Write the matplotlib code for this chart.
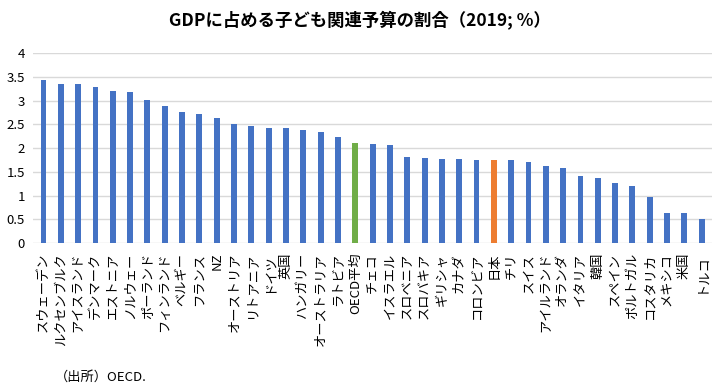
import matplotlib
matplotlib.use("Agg")
import matplotlib.pyplot as plt

plt.rcParams["font.family"] = ["Noto Sans CJK JP", "DejaVu Sans"]

countries = [
    "スウェーデン", "ルクセンブルク", "アイスランド", "デンマーク", "エストニア",
    "ノルウェー", "ポーランド", "フィンランド", "ベルギー", "フランス", "NZ",
    "オーストリア", "リトアニア", "ドイツ", "英国", "ハンガリー", "オーストラリア",
    "ラトビア", "OECD平均", "チェコ", "イスラエル", "スロベニア", "スロバキア",
    "ギリシャ", "カナダ", "コロンビア", "日本", "チリ", "スイス", "アイルランド",
    "オランダ", "イタリア", "韓国", "スペイン", "ポルトガル", "コスタリカ",
    "メキシコ", "米国", "トルコ",
]
values = [
    3.44, 3.36, 3.35, 3.30, 3.21, 3.19, 3.02, 2.89, 2.76, 2.72, 2.64,
    2.50, 2.47, 2.42, 2.42, 2.39, 2.34, 2.24, 2.11, 2.08, 2.06, 1.82,
    1.79, 1.77, 1.77, 1.75, 1.75, 1.75, 1.70, 1.63, 1.58, 1.42, 1.37,
    1.27, 1.20, 0.97, 0.63, 0.63, 0.51,
]
highlight = {"OECD平均": "#70AD47", "日本": "#ED7D31"}
colors = [highlight.get(c, "#4472C4") for c in countries]

fig = plt.figure(figsize=(7.2, 3.89), dpi=100)
ax = fig.add_axes([0.046, 0.375, 0.943, 0.488])

x = range(len(countries))
ax.bar(x, values, width=0.34, color=colors, zorder=3)

ax.set_ylim(0, 4)
ax.set_xlim(-0.6, len(countries) - 0.4)
ax.set_yticks([0, 0.5, 1, 1.5, 2, 2.5, 3, 3.5, 4])
ax.set_yticklabels(["0", "0.5", "1", "1.5", "2", "2.5", "3", "3.5", "4"], fontsize=9.5)
ax.set_xticks(list(x))
ax.set_xticklabels(countries, rotation=90, fontsize=9.5)
ax.tick_params(axis="x", length=0, pad=7)
ax.tick_params(axis="y", length=0, pad=6)
for s in ax.spines.values():
    s.set_visible(False)
ax.grid(axis="y", color="#d9d9d9", linewidth=1.0, zorder=0)
ax.set_axisbelow(True)

fig.text(0.5, 0.95, "GDPに占める子ども関連予算の割合（2019; %）",
         ha="center", va="center", fontsize=12.5, fontweight="bold")
fig.text(0.076, 0.03, "（出所）OECD.", ha="left", va="center", fontsize=9.5)

fig.savefig("out.png", dpi=100)
